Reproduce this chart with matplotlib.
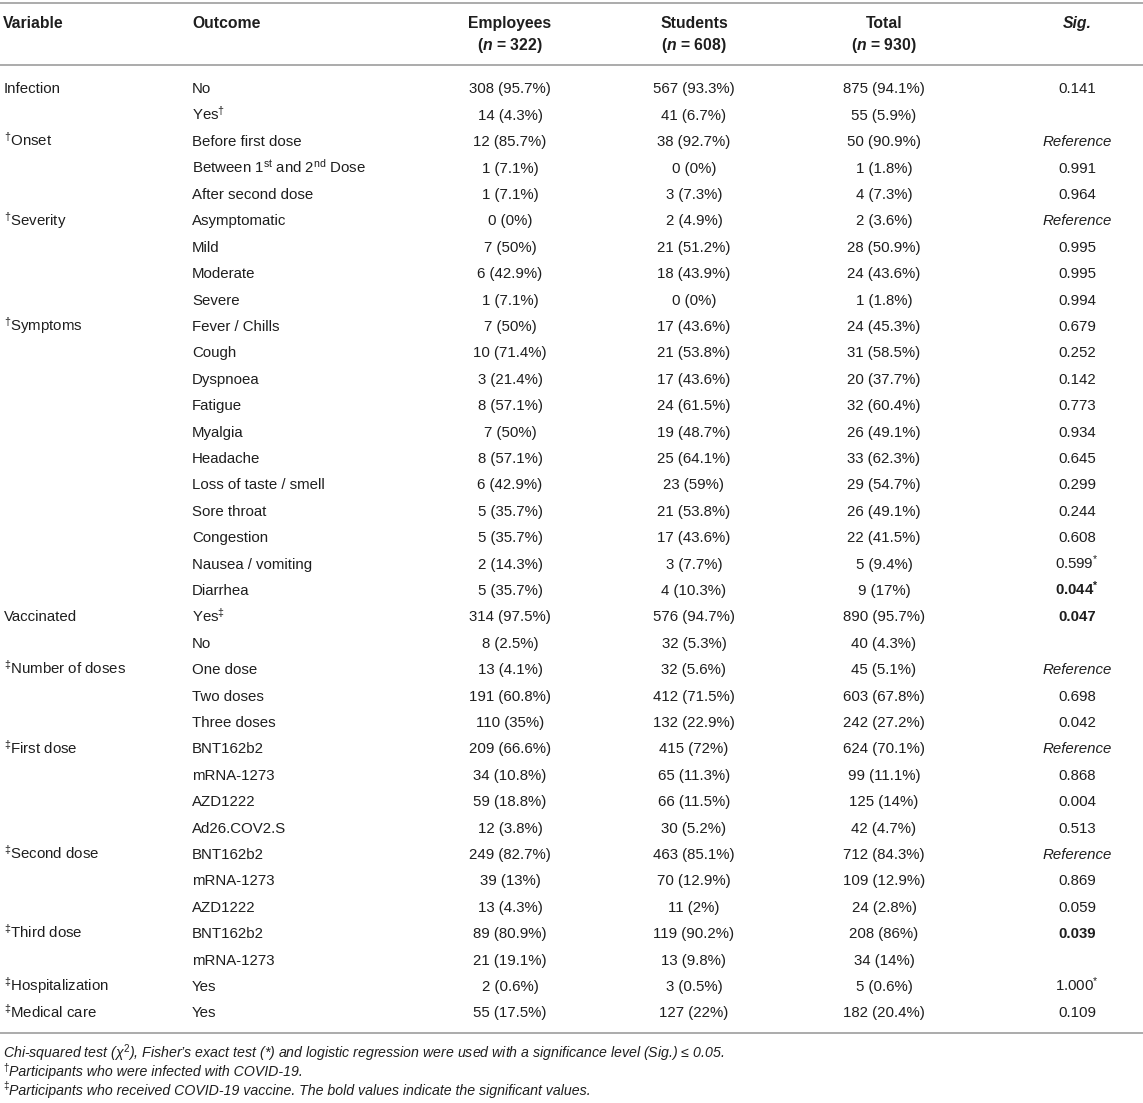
import matplotlib
matplotlib.use("Agg")
import matplotlib.pyplot as plt

plt.rcParams['font.family'] = ['Liberation Sans', 'DejaVu Sans']
plt.rcParams['mathtext.fontset'] = 'custom'
plt.rcParams['mathtext.rm'] = 'Liberation Sans'
plt.rcParams['mathtext.it'] = 'Liberation Sans:italic:bold'
plt.rcParams['mathtext.bf'] = 'Liberation Sans:bold'

DAG = r'$^{\mathrm{†}}$'
DDAG = r'$^{\mathrm{‡}}$'

# Table data
headers = ['Variable', 'Outcome', 'Employees', 'Students', 'Total', 'Sig.']
group_n = ['', '', '322', '608', '930', '']

variables = ['Infection', '', DAG + 'Onset', '', '', DAG + 'Severity', '', '', '',
             DAG + 'Symptoms', '', '', '', '', '', '', '', '', '', '',
             'Vaccinated', '', DDAG + 'Number of doses', '', '',
             DDAG + 'First dose', '', '', '', DDAG + 'Second dose', '', '',
             DDAG + 'Third dose', '', DDAG + 'Hospitalization', DDAG + 'Medical care']

outcomes = ['No', 'Yes' + DAG, 'Before first dose',
            r'Between 1$^{\mathrm{st}}$ and 2$^{\mathrm{nd}}$ Dose', 'After second dose',
            'Asymptomatic', 'Mild', 'Moderate', 'Severe',
            'Fever / Chills', 'Cough', 'Dyspnoea', 'Fatigue', 'Myalgia', 'Headache',
            'Loss of taste / smell', 'Sore throat', 'Congestion', 'Nausea / vomiting',
            'Diarrhea', 'Yes' + DDAG, 'No', 'One dose', 'Two doses', 'Three doses',
            'BNT162b2', 'mRNA-1273', 'AZD1222', 'Ad26.COV2.S',
            'BNT162b2', 'mRNA-1273', 'AZD1222', 'BNT162b2', 'mRNA-1273', 'Yes', 'Yes']

employees = ['308 (95.7%)', '14 (4.3%)', '12 (85.7%)', '1 (7.1%)', '1 (7.1%)',
             '0 (0%)', '7 (50%)', '6 (42.9%)', '1 (7.1%)',
             '7 (50%)', '10 (71.4%)', '3 (21.4%)', '8 (57.1%)', '7 (50%)', '8 (57.1%)',
             '6 (42.9%)', '5 (35.7%)', '5 (35.7%)', '2 (14.3%)', '5 (35.7%)',
             '314 (97.5%)', '8 (2.5%)', '13 (4.1%)', '191 (60.8%)', '110 (35%)',
             '209 (66.6%)', '34 (10.8%)', '59 (18.8%)', '12 (3.8%)',
             '249 (82.7%)', '39 (13%)', '13 (4.3%)', '89 (80.9%)', '21 (19.1%)',
             '2 (0.6%)', '55 (17.5%)']

students = ['567 (93.3%)', '41 (6.7%)', '38 (92.7%)', '0 (0%)', '3 (7.3%)',
            '2 (4.9%)', '21 (51.2%)', '18 (43.9%)', '0 (0%)',
            '17 (43.6%)', '21 (53.8%)', '17 (43.6%)', '24 (61.5%)', '19 (48.7%)', '25 (64.1%)',
            '23 (59%)', '21 (53.8%)', '17 (43.6%)', '3 (7.7%)', '4 (10.3%)',
            '576 (94.7%)', '32 (5.3%)', '32 (5.6%)', '412 (71.5%)', '132 (22.9%)',
            '415 (72%)', '65 (11.3%)', '66 (11.5%)', '30 (5.2%)',
            '463 (85.1%)', '70 (12.9%)', '11 (2%)', '119 (90.2%)', '13 (9.8%)',
            '3 (0.5%)', '127 (22%)']

total = ['875 (94.1%)', '55 (5.9%)', '50 (90.9%)', '1 (1.8%)', '4 (7.3%)',
         '2 (3.6%)', '28 (50.9%)', '24 (43.6%)', '1 (1.8%)',
         '24 (45.3%)', '31 (58.5%)', '20 (37.7%)', '32 (60.4%)', '26 (49.1%)', '33 (62.3%)',
         '29 (54.7%)', '26 (49.1%)', '22 (41.5%)', '5 (9.4%)', '9 (17%)',
         '890 (95.7%)', '40 (4.3%)', '45 (5.1%)', '603 (67.8%)', '242 (27.2%)',
         '624 (70.1%)', '99 (11.1%)', '125 (14%)', '42 (4.7%)',
         '712 (84.3%)', '109 (12.9%)', '24 (2.8%)', '208 (86%)', '34 (14%)',
         '5 (0.6%)', '182 (20.4%)']

sig = ['0.141', '', 'Reference', '0.991', '0.964',
       'Reference', '0.995', '0.995', '0.994',
       '0.679', '0.252', '0.142', '0.773', '0.934', '0.645',
       '0.299', '0.244', '0.608', '0.599*', '0.044*',
       '0.047', '', 'Reference', '0.698', '0.042',
       'Reference', '0.868', '0.004', '0.513',
       'Reference', '0.869', '0.059', '0.039', '',
       '1.000*', '0.109']
sig_bold = ['0.044*', '0.047', '0.039']

footnote_marks = ['', '†', '‡']
footnotes = [r'Chi-squared test (χ$^{2}$), Fisher’s exact test (*) and logistic regression '
             r'were used with a significance level (Sig.) ≤ 0.05.',
             'Participants who were infected with COVID-19.',
             'Participants who received COVID-19 vaccine. The bold values indicate the significant values.']

# Layout (pixels)
W, H = 1143, 1103
fig = plt.figure(figsize=(W / 100, H / 100), dpi=100)
fig.patch.set_facecolor('white')

TXT = '#1e1e1e'
LINE = '#ababab'
FS = 10.8
FS_HEAD = 11.3
FS_NOTE = 10.2

def px(x, y):
    return x / W, 1 - y / H

def put(x, y, s, ha='left', fontsize=FS, rise=0.0, **kw):
    # y is the visual middle of capitals; place on baseline
    base = y + 0.5 * fontsize * 100 / 72 * 0.716 - rise
    fx, fy = px(x, base)
    fig.text(fx, fy, s, ha=ha, va='baseline', fontsize=fontsize, color=TXT, **kw)

def hline(y):
    fx0, fy = px(0, y)
    fig.add_artist(plt.Line2D([0, 1], [fy, fy], color=LINE, lw=1.4,
                              transform=fig.transFigure))

col_x = [3, 192, 510, 694, 884, 1077]
col_ha = ['left', 'left', 'center', 'center', 'center', 'center']

hline(3)
hline(65)
hline(1033)

# Header
for i, h in enumerate(headers):
    style = 'italic' if h == 'Sig.' else 'normal'
    put(col_x[i], 22, h, ha=col_ha[i], fontweight='bold', style=style, fontsize=FS_HEAD)
    if group_n[i]:
        put(col_x[i], 44, r'($n$ = ' + group_n[i] + ')', ha=col_ha[i],
            fontweight='bold', fontsize=FS_HEAD)

# Body
row0, step = 88, 26.4
for r in range(len(outcomes)):
    y = row0 + r * step
    if variables[r]:
        put(col_x[0] + 1, y, variables[r])
    put(col_x[1], y, outcomes[r])
    put(col_x[2], y, employees[r], ha='center')
    put(col_x[3], y, students[r], ha='center')
    put(col_x[4], y, total[r], ha='center')
    s = sig[r]
    if not s:
        continue
    weight = 'bold' if s in sig_bold else 'normal'
    style = 'italic' if s == 'Reference' else 'normal'
    if s.endswith('*'):
        star = r'$^{\mathbf{*}}$' if weight == 'bold' else r'$^{\mathrm{*}}$'
        s = s[:-1] + star
    put(col_x[5], y, s, ha='center', fontweight=weight, style=style)

# Footnotes
for k, f in enumerate(footnotes):
    y = 1053 + k * 18.3
    if footnote_marks[k]:
        put(3, y, footnote_marks[k], fontsize=7, rise=4)
        put(9, y, f, style='italic', fontsize=FS_NOTE)
    else:
        put(3, y, f, style='italic', fontsize=FS_NOTE)

fig.savefig('out.png', dpi=100, facecolor='white')
